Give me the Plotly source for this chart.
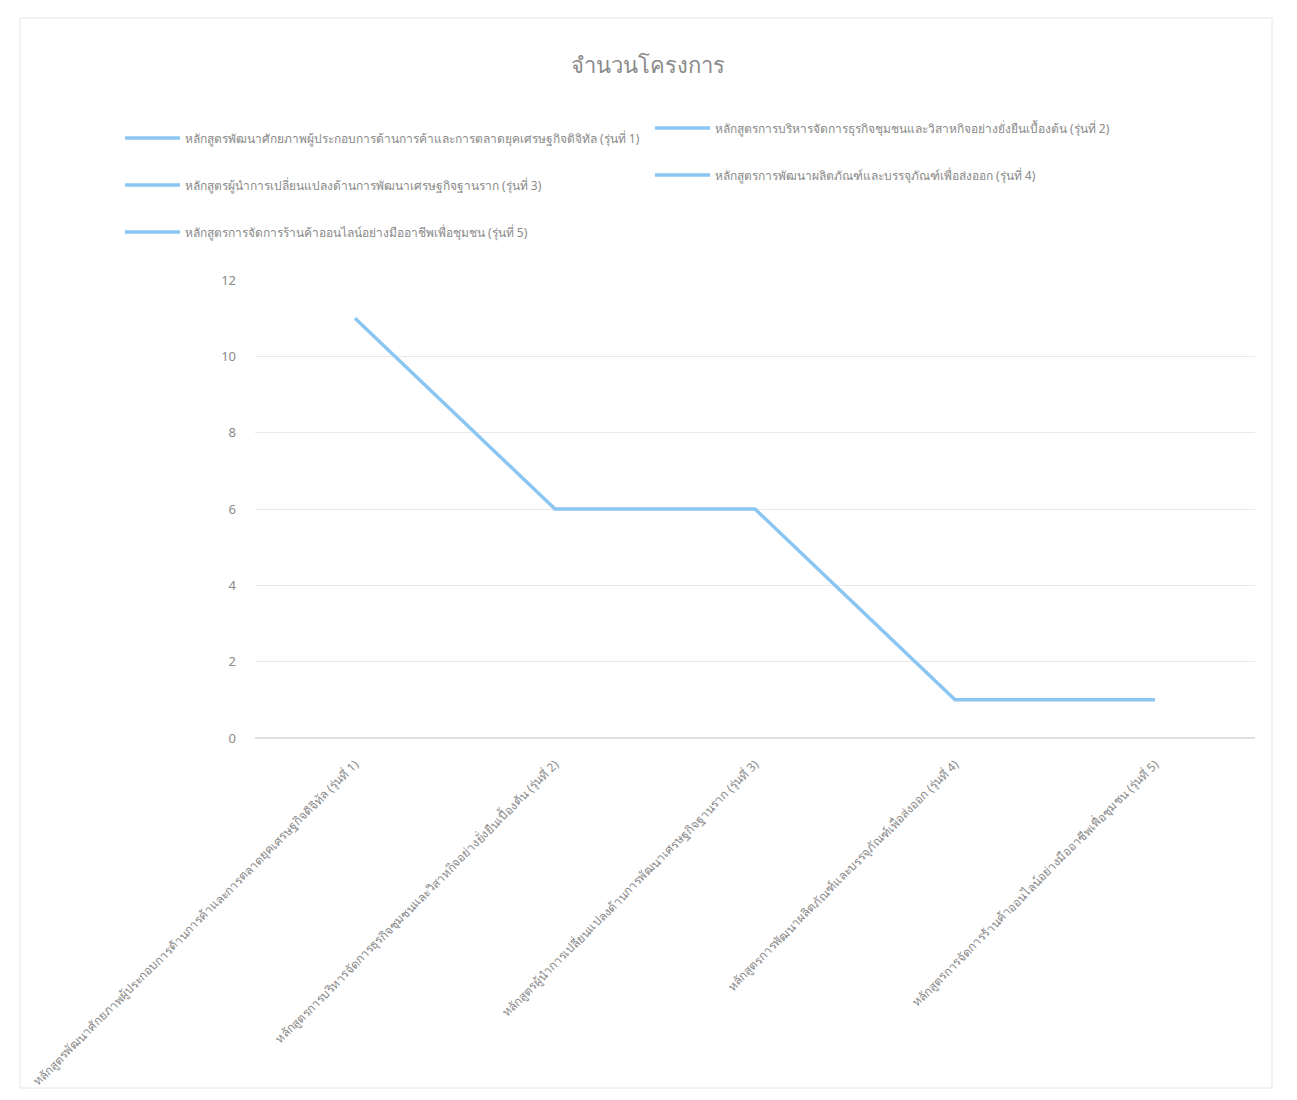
import plotly.graph_objects as go

title_text = "จำนวนโครงการ"
categories = [
    "หลักสูตรพัฒนาศักยภาพผู้ประกอบการด้านการค้าและการตลาดยุคเศรษฐกิจดิจิทัล (รุ่นที่ 1)",
    "หลักสูตรการบริหารจัดการธุรกิจชุมชนและวิสาหกิจอย่างยั่งยืนเบื้องต้น (รุ่นที่ 2)",
    "หลักสูตรผู้นำการเปลี่ยนแปลงด้านการพัฒนาเศรษฐกิจฐานราก (รุ่นที่ 3)",
    "หลักสูตรการพัฒนาผลิตภัณฑ์และบรรจุภัณฑ์เพื่อส่งออก (รุ่นที่ 4)",
    "หลักสูตรการจัดการร้านค้าออนไลน์อย่างมืออาชีพเพื่อชุมชน (รุ่นที่ 5)",
]
values = [11, 6, 6, 1, 1]
y_ticks = [0, 2, 4, 6, 8, 10, 12]

LINE = "#8bc6f3"
TXT = "#8a8a8a"
FONT = "Noto Sans, DejaVu Sans, sans-serif"

W, H = 1280, 1085
L, R, T, B = 247, 33, 272, 355

fig = go.Figure()
fig.add_trace(go.Scatter(
    x=categories, y=values, mode="lines",
    line=dict(color=LINE, width=3.5), showlegend=False,
))

# legend entries (one per category), placed like the original's two-column legend
legend_pos = [(112, 130), (642, 120), (112, 177), (642, 167), (112, 224)]
for i, (cat, (lx, ly)) in enumerate(zip(categories, legend_pos)):
    name = "legend" if i == 0 else f"legend{i+1}"
    fig.add_trace(go.Scatter(
        x=[None], y=[None], mode="lines", name=cat,
        line=dict(color=LINE, width=3.5), legend=name, showlegend=True,
    ))
    fig.update_layout({name: dict(
        x=lx / W, y=1 - ly / H, xref="container", yref="container",
        xanchor="left", yanchor="middle", bgcolor="rgba(0,0,0,0)",
        itemwidth=55,
        font=dict(size=12, color=TXT, family=FONT),
    )})

fig.update_layout(
    width=W, height=H,
    margin=dict(l=L, r=R, t=T, b=B, autoexpand=False),
    paper_bgcolor="white", plot_bgcolor="white",
    title=dict(text=title_text, x=0.5, xref="container", y=1 - 57 / H,
               yref="container", xanchor="center", yanchor="middle",
               font=dict(size=22, color=TXT, family=FONT)),
    font=dict(family=FONT, color=TXT),
    xaxis=dict(type="category", range=[-0.5, 4.5], tickangle=-45,
               showgrid=False, showline=False, ticks="", automargin=False,
               ticklabelstandoff=16,
               tickfont=dict(size=12, color=TXT, family=FONT)),
    yaxis=dict(range=[0, 12], tickvals=y_ticks, showgrid=True,
               gridcolor="#e9e9e9", gridwidth=1, zeroline=True,
               zerolinecolor="#e0e0e0", showline=False, ticks="",
               ticklabelstandoff=18, automargin=False,
               tickfont=dict(size=13, color=TXT, family=FONT)),
)

fig.add_shape(type="rect", xref="paper", yref="paper",
              x0=(12 - L) / 1000, x1=(1264 - L) / 1000,
              y0=(730 - 1080) / 458, y1=(730 - 10) / 458,
              line=dict(color="#e6e6e6", width=1), layer="below")

fig.write_html("out.html")
